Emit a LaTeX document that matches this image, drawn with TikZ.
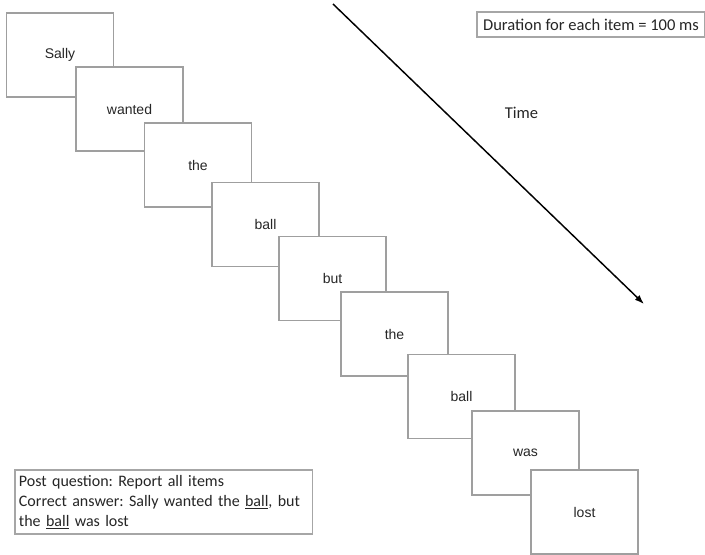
\documentclass[tikz,border=0pt]{standalone}
\usepackage{fontspec}
\setmainfont{Carlito}
\newfontfamily\wordfont{Liberation Sans}
\usetikzlibrary{arrows.meta}
\frenchspacing

\tikzset{
  wordbox/.style={draw=gray!75, line width=0.8pt, fill=white,
    minimum width=80.25pt, minimum height=63pt, inner sep=0pt,
    font=\wordfont\fontsize{10.5}{12}\selectfont, text=black!85},
  notebox/.style={draw=gray!70, line width=0.8pt, fill=white, inner sep=0pt,
    font=\fontsize{12.4}{15}\selectfont, text=black!85},
  timearrow/.style={line width=1.1pt, -{Latex[length=7pt,width=5pt]}}
}

\begin{document}
\begin{tikzpicture}[x=0.75pt, y=-0.75pt]
  \useasboundingbox (0,0) rectangle (705,554);

  % word sequence, each later frame laid over the previous one
  \node[wordbox] (w1) at (60,55)      {Sally};
  \node[wordbox] (w2) at (129.5,109)  {wanted};
  \node[wordbox] (w3) at (198,165)    {the};
  \node[wordbox] (w4) at (265.5,224.5){ball};
  \node[wordbox] (w5) at (332.5,278.5){but};
  \node[wordbox] (w6) at (394.5,334)  {the};
  \node[wordbox] (w7) at (461.5,396.5){ball};
  \node[wordbox] (w8) at (525.5,453)  {was};
  \node[wordbox] (w9) at (584.5,512)  {lost};

  % time axis
  \coordinate (tstart) at (333,4);
  \coordinate (tend) at (644,304);
  \draw[timearrow] (tstart) -- (tend);
  \node[font=\fontsize{12.4}{15}\selectfont, text=black!85] (timelbl) at (521.5,113) {Time};

  % duration note
  \node[notebox, minimum width=171pt, minimum height=18.75pt] (dur) at (591,24.5)
    {Duration for each item = 100 ms};

  % post question note
  \node[notebox, font=\fontsize{12}{15}\selectfont,
        minimum width=222.75pt, minimum height=48pt,
        text width=220pt, align=left, inner xsep=1.4pt] (post) at (163.5,502)
    {\hspace*{1.6pt}Post question: Report all items\\
     \hspace*{1.6pt}Correct answer: Sally wanted the \underline{ball}, but\\
     \hspace*{1.6pt}the \underline{ball} was lost};
\end{tikzpicture}
\end{document}
